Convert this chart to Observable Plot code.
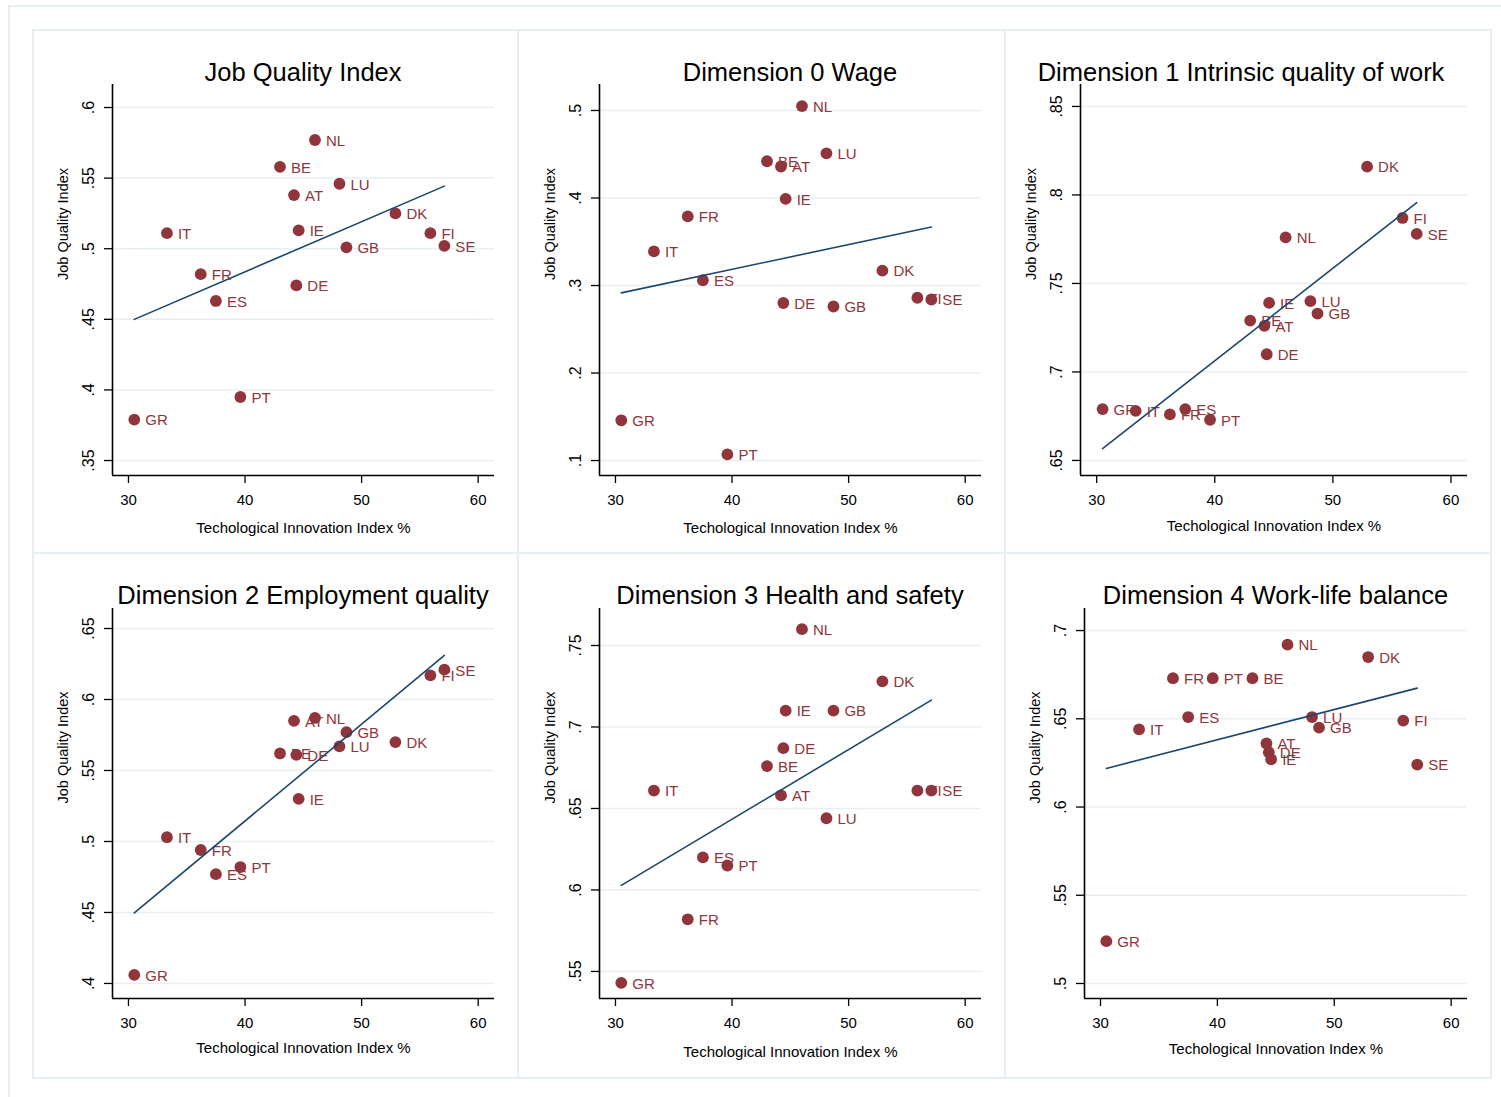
<!DOCTYPE html>
<html>
<head>
<meta charset="utf-8">
<script src="https://cdn.jsdelivr.net/npm/d3@7"></script>
<script src="https://cdn.jsdelivr.net/npm/@observablehq/plot@0.6"></script>
<style>
  body { margin: 0; background: #ffffff; font-family: "Liberation Sans", Arial, sans-serif; }
  #root { position: relative; width: 1501px; height: 1097px; overflow: hidden; background: #fff; }
  .line { position: absolute; background: #E8EFF2; }
  .panel { position: absolute; }
  .title { height: 54px; box-sizing: border-box; padding-top: 28px; line-height: 28px; font-size: 25.5px;
           text-align: center; color: #000; white-space: nowrap; overflow: visible; }
  .panel svg { display: block; overflow: visible; }
</style>
</head>
<body>
<div id="root"></div>
<script>
// ---- Data ----
const countries = ["AT","BE","DE","DK","ES","FI","FR","GB","GR","IE","IT","LU","NL","PT","SE"];
const techInnovation = [44.2, 43.0, 44.4, 52.9, 37.5, 55.9, 36.2, 48.7, 30.5, 44.6, 33.3, 48.1, 46.0, 39.6, 57.1];
const jobQuality   = [0.538, 0.558, 0.474, 0.525, 0.463, 0.511, 0.482, 0.501, 0.379, 0.513, 0.511, 0.546, 0.577, 0.395, 0.502];
const dimWage      = [0.436, 0.442, 0.280, 0.317, 0.306, 0.286, 0.379, 0.276, 0.146, 0.399, 0.339, 0.451, 0.505, 0.107, 0.284];
const dimIntrinsic = [0.726, 0.729, 0.710, 0.816, 0.679, 0.787, 0.676, 0.733, 0.679, 0.739, 0.678, 0.740, 0.776, 0.673, 0.778];
const dimEmploy    = [0.585, 0.562, 0.561, 0.570, 0.477, 0.617, 0.494, 0.577, 0.406, 0.530, 0.503, 0.567, 0.587, 0.482, 0.621];
const dimHealth    = [0.658, 0.676, 0.687, 0.728, 0.620, 0.661, 0.582, 0.710, 0.543, 0.710, 0.661, 0.644, 0.760, 0.615, 0.661];
const dimWorkLife  = [0.636, 0.673, 0.631, 0.685, 0.651, 0.649, 0.673, 0.645, 0.524, 0.627, 0.644, 0.651, 0.692, 0.673, 0.624];

const xTicks = [30, 40, 50, 60];
const ticksJQI       = [0.35, 0.4, 0.45, 0.5, 0.55, 0.6];
const ticksWage      = [0.1, 0.2, 0.3, 0.4, 0.5];
const ticksIntrinsic = [0.65, 0.7, 0.75, 0.8, 0.85];
const ticksEmploy    = [0.4, 0.45, 0.5, 0.55, 0.6, 0.65];
const ticksHealth    = [0.55, 0.6, 0.65, 0.7, 0.75];
const ticksWorkLife  = [0.5, 0.55, 0.6, 0.65, 0.7];

const titles = ["Job Quality Index", "Dimension 0 Wage", "Dimension 1 Intrinsic quality of work",
                "Dimension 2 Employment quality", "Dimension 3 Health and safety", "Dimension 4 Work-life balance"];
const xLabel = "Techological Innovation Index %";
const yLabel = "Job Quality Index";

// ---- Styling / layout ----
const maroon = "#90353B";
const navy = "#1A476F";
const gridColor = "#E8EFF2";
const font = "Liberation Sans, Arial, sans-serif";
const xDomain = [28.63, 61.4];

const colX = [33, 518, 1005, 1491];
const rowY = [30, 553, 1078];

const panels = [
  {t: 0, y: jobQuality,   ticks: ticksJQI,       dom: [0.3394, 0.6163], c: 0, r: 0, ml: 79, mr: 24, xt: 57},
  {t: 1, y: dimWage,      ticks: ticksWage,      dom: [0.0829, 0.5297], c: 1, r: 0, ml: 81, mr: 24, xt: 57},
  {t: 2, y: dimIntrinsic, ticks: ticksIntrinsic, dom: [0.6415, 0.8624], c: 2, r: 0, ml: 75, mr: 24, xt: 55, tl: 0, tr: 14},
  {t: 3, y: dimEmploy,    ticks: ticksEmploy,    dom: [0.3894, 0.6641], c: 0, r: 1, ml: 79, mr: 24, xt: 54},
  {t: 4, y: dimHealth,    ticks: ticksHealth,    dom: [0.5334, 0.7727], c: 1, r: 1, ml: 81, mr: 24, xt: 58},
  {t: 5, y: dimWorkLife,  ticks: ticksWorkLife,  dom: [0.4915, 0.7125], c: 2, r: 1, ml: 79, mr: 24, xt: 55}
];
const rowMargins = [{mt: 0, mb: 78}, {mt: 1, mb: 80}];

const root = document.getElementById("root");

// frame lines
function addLine(x, y, w, h) {
  const d = document.createElement("div");
  d.className = "line";
  Object.assign(d.style, {left: x + "px", top: y + "px", width: w + "px", height: h + "px"});
  root.appendChild(d);
}
addLine(8, 5, 1600, 2);
addLine(8, 5, 2, 1200);
for (const x of colX) addLine(x - 1, rowY[0] - 1, 2, rowY[2] - rowY[0] + 2);
for (const y of rowY) addLine(colX[0] - 1, y - 1, colX[3] - colX[0] + 2, 2);

const fmt = d => String(d).replace(/^0\./, ".");

for (const p of panels) {
  const data = countries.map((c, i) => ({country: c, x: techInnovation[i], y: p.y[i]}));
  const left = colX[p.c], top = rowY[p.r];
  const w = colX[p.c + 1] - colX[p.c];
  const h = rowY[p.r + 1] - rowY[p.r];
  const {mt, mb} = rowMargins[p.r];

  const panel = document.createElement("div");
  panel.className = "panel";
  Object.assign(panel.style, {left: left + "px", top: top + "px", width: w + "px", height: h + "px"});

  const title = document.createElement("div");
  title.className = "title";
  title.style.paddingLeft = (p.tl ?? p.ml) + "px";
  title.style.paddingRight = (p.tr ?? p.mr) + "px";
  title.textContent = titles[p.t];
  panel.appendChild(title);

  const chart = Plot.plot({
    width: w,
    height: h - 54,
    marginLeft: p.ml,
    marginRight: p.mr,
    marginTop: mt,
    marginBottom: mb,
    style: {fontFamily: font, fontSize: "15px", color: "#000", background: "transparent", overflow: "visible"},
    x: {domain: xDomain},
    y: {domain: p.dom},
    marks: [
      Plot.gridY(p.ticks, {stroke: gridColor, strokeOpacity: 1, strokeWidth: 1.5}),
      Plot.axisX(xTicks, {tickSize: 8, tickPadding: 11, fontSize: 15, label: null, strokeWidth: 1.3}),
      Plot.axisY(p.ticks, {tickSize: 8, tickPadding: 11, tickRotate: -90, tickFormat: fmt, fontSize: 16, label: null, strokeWidth: 1.3}),
      Plot.ruleX([xDomain[0]], {stroke: "#000", strokeWidth: 1.6}),
      Plot.ruleY([p.dom[0]], {stroke: "#000", strokeWidth: 1.6}),
      Plot.text(data, {x: "x", y: "y", text: "country", dx: 11, dy: 1, textAnchor: "start", fill: maroon, fontSize: 15}),
      Plot.dot(data, {x: "x", y: "y", r: 5.9, fill: maroon, stroke: "none"}),
      Plot.linearRegressionY(data, {x: "x", y: "y", stroke: navy, strokeWidth: 1.6, ci: 0}),
      Plot.text([yLabel], {text: d => d, frameAnchor: "left", dx: -49, rotate: -90, fontSize: 14.5, fill: "#000"}),
      Plot.text([xLabel], {text: d => d, frameAnchor: "bottom", dy: p.xt, fontSize: 15, fill: "#000"})
    ]
  });
  panel.appendChild(chart);
  root.appendChild(panel);
}
</script>
</body>
</html>
